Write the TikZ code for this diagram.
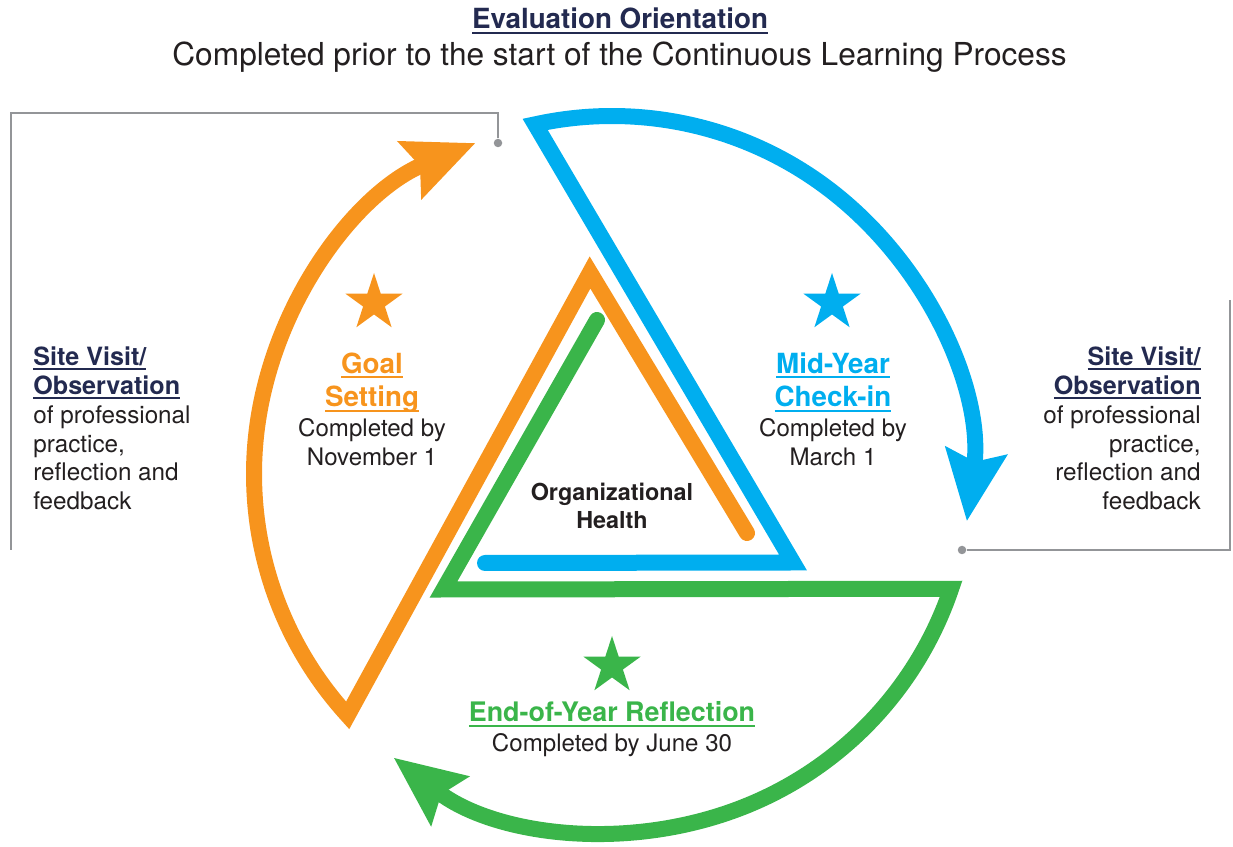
\documentclass[tikz,border=0pt]{standalone}
\usepackage{fontspec}
\setmainfont{TeX Gyre Heros}
\usetikzlibrary{arrows.meta,shapes.geometric}
\definecolor{cOrange}{HTML}{F7941D}
\definecolor{cBlue}{HTML}{00AEEF}
\definecolor{cGreen}{HTML}{3AB54A}
\definecolor{cNavy}{HTML}{232A50}
\definecolor{cGray}{HTML}{939598}
\definecolor{cText}{HTML}{231F20}
\newcommand\undl[1]{\setbox0\hbox{#1}\rlap{\rule[-2.6pt]{\wd0}{1.1pt}}\box0}
\begin{document}
\begin{tikzpicture}[band/.style={line width=0.32cm,line join=miter,line cap=round,
      {Stealth[length=1.4cm,width=1.2cm,inset=0.2cm]}-},
    lbl/.style={inner sep=0pt,anchor=base,align=center,text=cText},
    starmark/.style={star,star points=5,star point ratio=2.618,fill,inner sep=0pt,minimum size=1.2cm}]
      \useasboundingbox (0,0) rectangle (24.66,16.92);%

      \coordinate (C) at (12.24,7.44);%
      \coordinate (OA) at (11.80,11.47);%
      \coordinate (OE) at (14.94,6.26);%
      \coordinate (BA) at (15.86,5.67);%
      \coordinate (BE) at (9.70,5.66);%
      \coordinate (GA) at (8.87,5.13);%
      \coordinate (GE) at (11.94,10.52);%

      \draw[band,cOrange] ([shift={(112.4:7.16)}]C) arc[start angle=112.4,end angle=222.4,radius=7.16] -- (OA) -- (OE);%
      \draw[band,cBlue] ([shift={(-7.6:7.16)}]C) arc[start angle=-7.6,end angle=102.4,radius=7.16] -- (BA) -- (BE);%
      \draw[band,cGreen] ([shift={(232.4:7.16)}]C) arc[start angle=232.4,end angle=341.3,radius=7.16] -- (GA) -- (GE);%

      \node[starmark,cOrange] (S1) at (7.48,10.86) {};%
      \node[starmark,cBlue] (S2) at (16.64,10.86) {};%
      \node[starmark,cGreen] (S3) at (12.24,3.60) {};%

      \node[lbl,text=cNavy,font=\fontsize{15.8}{19}\selectfont\bfseries] (T1) at (12.40,16.34) {\undl{Evaluation Orientation}};%
      \node[lbl,font=\fontsize{18}{21}\selectfont] (T2) at (12.39,15.60) {Completed prior to the start of the Continuous Learning Process};%

      \node[lbl,text=cOrange,font=\fontsize{15.8}{19.3}\selectfont\bfseries] (GH) at (7.44,8.78) {\undl{Goal}\\\undl{Setting}};%
      \node[lbl,font=\fontsize{13.7}{16.5}\selectfont] (GT) at (7.44,7.60) {Completed by\\November 1};%

      \node[lbl,text=cBlue,font=\fontsize{15.8}{19.3}\selectfont\bfseries] (MH) at (16.66,8.78) {\undl{Mid-Year}\\\undl{Check-in}};%
      \node[lbl,font=\fontsize{13.7}{16.5}\selectfont] (MT) at (16.66,7.60) {Completed by\\March 1};%

      \node[lbl,text=cGreen,font=\fontsize{15.3}{18}\selectfont\bfseries] (EH) at (12.24,2.48) {\undl{End-of-Year Reflection}};%
      \node[lbl,font=\fontsize{13.7}{16.5}\selectfont] (ET) at (12.24,1.88) {Completed by June 30};%

      \node[lbl,font=\fontsize{13.3}{16}\selectfont\bfseries] (OH) at (12.24,6.34) {Organizational\\Health};%

      \node[lbl,anchor=base west,align=left,font=\fontsize{13.8}{16.5}\selectfont] (VL) at (0.66,6.72)
      {{\color{cNavy}\fontsize{14.3}{16.5}\selectfont\bfseries\undl{Site Visit/}}\\{\color{cNavy}\fontsize{14.3}{16.5}\selectfont\bfseries\undl{Observation}}\\of professional\\practice,\\reflection and\\feedback};%
      \node[lbl,anchor=base east,align=right,font=\fontsize{13.8}{16.5}\selectfont] (VR) at (24.02,6.72)
      {{\color{cNavy}\fontsize{14.3}{16.5}\selectfont\bfseries\undl{Site Visit/}}\\{\color{cNavy}\fontsize{14.3}{16.5}\selectfont\bfseries\undl{Observation}}\\of professional\\practice,\\reflection and\\feedback};%

      \node[circle,fill=cGray,inner sep=0pt,minimum size=0.17cm] (D1) at (9.96,14.06) {};%
      \node[circle,fill=cGray,inner sep=0pt,minimum size=0.17cm] (D2) at (19.24,5.92) {};%
      \coordinate (K1) at (9.96,14.66);%
      \coordinate (K2) at (0.22,14.66);%
      \coordinate (K3) at (0.22,5.92);%
      \coordinate (K4) at (24.60,5.92);%
      \coordinate (K5) at (24.60,10.92);%

      \draw[cGray,line width=0.05cm] (D1) -- (K1) -- (K2) -- (K3);%
      \draw[cGray,line width=0.05cm] (D2) -- (K4) -- (K5);%
\end{tikzpicture}
\end{document}
